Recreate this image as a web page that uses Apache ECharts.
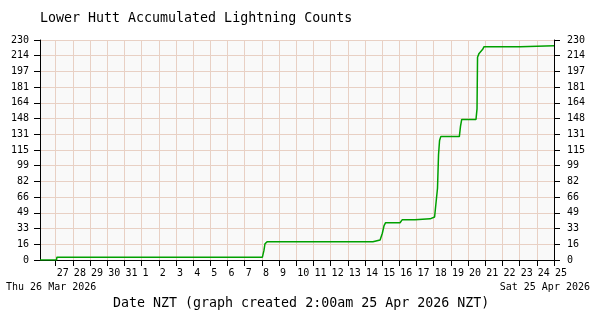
<!DOCTYPE html>
<html>
<head>
<meta charset="utf-8">
<script src="https://cdn.jsdelivr.net/npm/echarts@6/dist/echarts.min.js"></script>
<style>
  html, body { margin: 0; padding: 0; background: #fff; }
  #chart { width: 600px; height: 320px; }
</style>
</head>
<body>
<div id="chart"></div>
<script>
// x is in days since 26 Mar 2026 00:00 NZT (1 = 27 Mar, 30 = 25 Apr)
const days = [
  0.087, 1.05, 1.07, 13.03, 13.12, 13.18, 13.3, 19.46, 19.48, 19.88,
  20.01, 20.11, 20.2, 21.04, 21.16, 21.91, 21.97, 22.79, 22.85, 23.05,
  23.14, 23.22, 23.28, 23.34, 23.41, 24.49, 24.56, 24.63, 25.46, 25.52,
  25.55, 25.64, 25.73, 25.84, 25.93, 28.03, 28.09, 30,
];
const counts = [
  0, 0, 3, 3, 10, 17, 19, 19, 20, 21,
  28, 36, 39, 39, 42, 42, 43, 43, 45, 45,
  47, 75, 110, 125, 129, 129, 140, 147, 147, 158,
  212, 216, 218, 220, 223, 223, 224, 224,
];

const xTickDays = [
  1, 2, 3, 4, 5, 6, 7, 8, 9, 10, 11, 12, 13, 14, 15,
  16, 17, 18, 19, 20, 21, 22, 23, 24, 25, 26, 27, 28, 29, 30,
];
const xTickLabels = [
  '27', '28', '29', '30', '31', '1', '2', '3', '4', '5', '6', '7', '8', '9', '10',
  '11', '12', '13', '14', '15', '16', '17', '18', '19', '20', '21', '22', '23', '24', '25',
];
const yMax = 230;
const ySteps = 14;

const mono = 'DejaVu Sans Mono';
const gridColor = '#e8d0c4';

const chart = echarts.init(document.getElementById('chart'));

const yAxisBase = {
  type: 'value',
  min: 0,
  max: yMax,
  interval: yMax / ySteps,
  axisLine: { show: true, lineStyle: { color: '#000', width: 1 } },
  axisTick: { show: true, length: 6, lineStyle: { color: '#000' } },
  axisLabel: {
    color: '#000',
    fontFamily: mono,
    fontSize: 10,
    formatter: (v) => String(Math.round(v)),
  },
};

chart.setOption({
  animation: false,
  grid: {
    left: 40,
    right: 46,
    top: 40,
    bottom: 60,
    show: true,
    backgroundColor: '#f9f9f9',
    borderWidth: 0,
  },
  xAxis: {
    type: 'value',
    min: days[0],
    max: 30,
    axisLine: { show: true, onZero: false, lineStyle: { color: '#000', width: 1 } },
    axisTick: { show: true, length: 6, customValues: xTickDays, lineStyle: { color: '#000' } },
    axisLabel: {
      customValues: xTickDays,
      color: '#000',
      fontFamily: mono,
      fontSize: 10,
      align: 'left',
      margin: 8,
      padding: [0, 0, 0, 1],
      formatter: (v) => xTickLabels[Math.round(v) - 1],
    },
    splitLine: { show: true, lineStyle: { color: gridColor, width: 1 } },
  },
  yAxis: [
    Object.assign({}, yAxisBase, {
      position: 'left',
      axisLabel: Object.assign({}, yAxisBase.axisLabel, { margin: 11 }),
      splitLine: { show: true, showMaxLine: false, lineStyle: { color: gridColor, width: 1 } },
    }),
    Object.assign({}, yAxisBase, {
      position: 'right',
      axisLabel: Object.assign({}, yAxisBase.axisLabel, { margin: 13 }),
      splitLine: { show: false },
    }),
  ],
  series: [
    {
      type: 'line',
      yAxisIndex: 0,
      data: days.map((d, i) => [d, counts[i]]),
      showSymbol: false,
      lineStyle: { color: '#00a000', width: 1.5 },
      itemStyle: { color: '#00a000' },
    },
  ],
  graphic: [
    {
      type: 'text', left: 40, top: 12,
      style: { text: 'Lower Hutt Accumulated Lightning Counts', font: '13.3px "DejaVu Sans Mono"', fill: '#000' },
    },
    {
      type: 'text', left: 6, top: 282,
      style: { text: 'Thu 26 Mar 2026', font: '10px "DejaVu Sans Mono"', fill: '#000' },
    },
    {
      type: 'text', right: 10, top: 282,
      style: { text: 'Sat 25 Apr 2026', font: '10px "DejaVu Sans Mono"', fill: '#000' },
    },
    {
      type: 'text', left: 113, top: 297,
      style: { text: 'Date NZT (graph created 2:00am 25 Apr 2026 NZT)', font: '13.3px "DejaVu Sans Mono"', fill: '#000' },
    },
  ],
});
</script>
</body>
</html>
